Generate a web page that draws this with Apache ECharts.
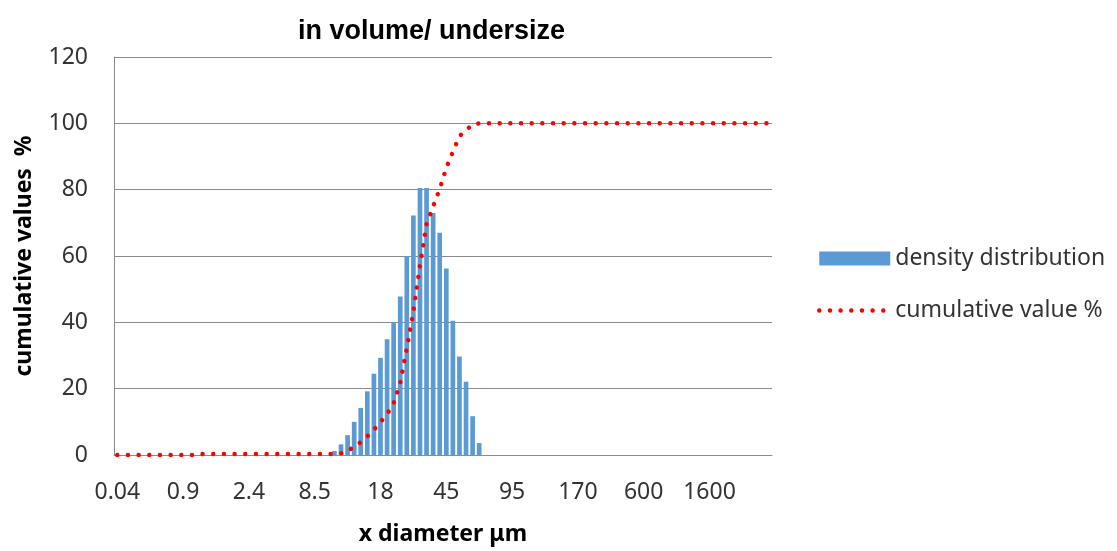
<!DOCTYPE html>
<html>
<head>
<meta charset="utf-8">
<script src="https://cdn.jsdelivr.net/npm/echarts@6/dist/echarts.min.js"></script>
<style>
  html, body { margin: 0; padding: 0; background: #fff; }
  #chart { width: 1117px; height: 551px; }
</style>
</head>
<body>
<div id="chart"></div>
<script>
// x 轴: 100 个粒径档, 每 10 档显示一个刻度
var categoryCount = 100;
var tickLabels = ['0.04', '0.9', '2.4', '8.5', '18', '45', '95', '170', '600', '1600'];

// 柱状: density distribution, 从第 33 档开始
var densityStart = 33;
var densityValues = [1.2, 3.2, 6.0, 10.0, 14.2, 19.2, 24.5, 29.3, 34.9, 40.0, 47.8, 60.0,
  72.2, 80.5, 80.5, 73.0, 67.0, 56.2, 40.5, 29.7, 22.1, 11.7, 3.6];

// 折线: cumulative value %, 每档一个值
var cumulativeValues = [
  0, 0, 0, 0, 0, 0, 0, 0, 0, 0,
  0, 0, 0, 0.3, 0.3, 0.3, 0.3, 0.3, 0.3, 0.3,
  0.3, 0.3, 0.3, 0.3, 0.3, 0.3, 0.3, 0.3, 0.3, 0.3,
  0.3, 0.3, 0.3, 0.3, 0.5, 1.3, 2.4, 3.9, 5.6, 7.6,
  9.9, 12.3, 15.6, 21.7, 32.2, 43.3, 57.2, 69.6, 75.0, 80.2,
  86.6, 91.4, 96.1, 98.0, 99.6, 100, 100, 100, 100, 100,
  100, 100, 100, 100, 100, 100, 100, 100, 100, 100,
  100, 100, 100, 100, 100, 100, 100, 100, 100, 100,
  100, 100, 100, 100, 100, 100, 100, 100, 100, 100,
  100, 100, 100, 100, 100, 100, 100, 100, 100, 100
];

var textColor = '#333';
var gridColor = '#8c8c8c';
var font = 'Noto Sans';
var dotLine = {color: '#ff0000', width: 4.5, type: [0.01, 10.66], cap: 'round'};

var categories = [];
var densityData = [];
for (var i = 0; i < categoryCount; i++) {
  categories.push(i % 10 === 0 ? tickLabels[i / 10] : '');
  var k = i - densityStart;
  densityData.push(k >= 0 && k < densityValues.length ? densityValues[k] : null);
}

var chart = echarts.init(document.getElementById('chart'));
chart.setOption({
  animation: false,
  backgroundColor: '#fff',
  title: {
    text: 'in volume/ undersize',
    left: 293,
    top: 13,
    textStyle: {fontFamily: 'Liberation Sans', fontWeight: 'bold', fontSize: 27, color: '#000'}
  },
  legend: {
    orient: 'vertical',
    left: 812,
    top: 242,
    itemWidth: 71,
    itemHeight: 14,
    itemGap: 29,
    textStyle: {fontFamily: font, fontSize: 23, color: textColor, padding: [0, 0, 0, 0]},
    data: [
      {name: 'density distribution', icon: 'rect'},
      {name: 'cumulative value %', itemStyle: {opacity: 0}, lineStyle: dotLine}
    ]
  },
  grid: {left: 114, right: 345, top: 57, bottom: 94},
  xAxis: {
    type: 'category',
    data: categories,
    boundaryGap: true,
    name: 'x diameter μm',
    nameLocation: 'middle',
    nameGap: 68,
    nameTextStyle: {fontFamily: font, fontWeight: 'bold', fontSize: 23, color: '#000'},
    axisLine: {lineStyle: {color: gridColor, width: 1}},
    axisTick: {show: false},
    axisLabel: {interval: 9, margin: 26, fontFamily: font, fontSize: 23, color: textColor}
  },
  yAxis: {
    type: 'value',
    min: 0,
    max: 120,
    interval: 20,
    name: 'cumulative values  %',
    nameLocation: 'middle',
    nameGap: 78,
    nameTextStyle: {fontFamily: font, fontWeight: 'bold', fontSize: 23, color: '#000'},
    axisLine: {show: true, lineStyle: {color: gridColor, width: 1}},
    axisTick: {show: false},
    splitLine: {lineStyle: {color: gridColor, width: 1}},
    axisLabel: {margin: 26, fontFamily: font, fontSize: 23, color: textColor}
  },
  series: [
    {
      name: 'density distribution',
      type: 'bar',
      barCategoryGap: '29%',
      itemStyle: {color: '#5b9bd5'},
      data: densityData
    },
    {
      name: 'cumulative value %',
      type: 'line',
      symbol: 'none',
      lineStyle: dotLine,
      itemStyle: {color: '#ff0000'},
      data: cumulativeValues
    }
  ]
});
</script>
</body>
</html>
